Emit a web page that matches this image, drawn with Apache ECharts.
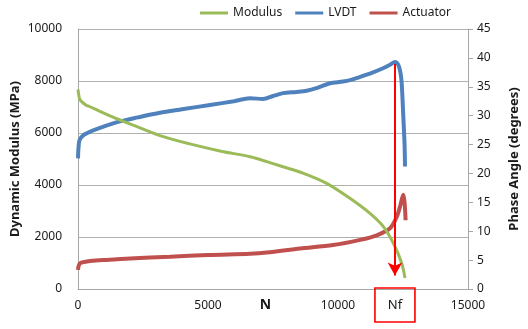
<!DOCTYPE html>
<html>
<head>
<meta charset="utf-8">
<script src="https://cdn.jsdelivr.net/npm/echarts@6/dist/echarts.min.js"></script>
<style>
  html, body { margin: 0; padding: 0; background: #fff; }
  #chart { width: 528px; height: 329px; }
</style>
</head>
<body>
<div id="chart"></div>
<script>
// 模量 (MPa) vs N
var modulusData = [
  [0, 7680], [40, 7400], [80, 7270], [300, 7080], [460, 7010], [800, 6850],
  [1230, 6660], [1615, 6500], [2000, 6350], [3150, 5900], [4300, 5580],
  [5500, 5300], [6615, 5090], [7000, 4980], [7885, 4700], [8650, 4460],
  [9565, 4065], [10460, 3490], [11230, 2910], [11745, 2400], [12130, 1760],
  [12450, 990], [12577, 420]
]
// 相位角 LVDT (degrees)
var lvdtData = [
  [0, 22.6], [20, 24.5], [60, 25.8], [200, 26.6], [500, 27.3], [846, 27.9],
  [1615, 29.0], [2300, 29.7], [3150, 30.5], [4000, 31.1], [5077, 31.85],
  [6000, 32.5], [6615, 33.0], [7115, 32.9], [7500, 33.4], [7885, 33.9],
  [8400, 34.1], [8795, 34.3], [9200, 34.8], [9690, 35.6], [10190, 35.9],
  [10500, 36.2], [10850, 36.7], [11300, 37.4], [11730, 38.2], [12000, 38.8],
  [12190, 39.3], [12320, 38.8], [12400, 37.5], [12450, 35.6], [12510, 30.0],
  [12560, 25.0], [12577, 21.2]
]
// 相位角 Actuator (degrees)
var actuatorData = [
  [0, 3.3], [20, 3.9], [80, 4.45], [400, 4.8], [974, 5.0], [2000, 5.3],
  [3540, 5.6], [5000, 5.9], [6615, 6.1], [7260, 6.3], [8540, 7.0],
  [9810, 7.6], [10850, 8.5], [11490, 9.3], [12000, 10.5], [12260, 12.5],
  [12400, 14.5], [12510, 16.3], [12560, 15.0], [12600, 11.9]
]
// Nf 及箭头
var nf = 12190
var arrowTop = 8650
var arrowBottom = 520

var font = 'Noto Sans'
var gridColor = '#b0b0b0'
var axisColor = '#a6a6a6'
var labelColor = '#1a1a1a'
var plain = function (v) { return String(v) }

var chart = echarts.init(document.getElementById('chart'))
var option = {
  animation: false,
  textStyle: { fontFamily: font },
  legend: {
    top: 2,
    right: 72,
    icon: 'rect',
    itemWidth: 28,
    itemHeight: 3,
    itemGap: 13,
    textStyle: { fontSize: 12, color: labelColor, fontFamily: font },
    data: ['Modulus', 'LVDT', 'Actuator']
  },
  grid: {
    left: 78,
    right: 60,
    top: 29,
    bottom: 40,
    containLabel: false,
    outerBoundsMode: 'none'
  },
  xAxis: {
    type: 'value',
    min: 0,
    max: 15000,
    interval: 5000,
    name: 'N',
    nameLocation: 'middle',
    nameGap: 9,
    nameMoveOverlap: false,
    nameTextStyle: { fontSize: 14, fontWeight: 'bold', color: labelColor, padding: [0, 15, 0, 0] },
    axisLine: { lineStyle: { color: axisColor } },
    axisTick: { show: false },
    axisLabel: { margin: 11, fontSize: 12, color: labelColor, formatter: plain },
    splitLine: { show: false }
  },
  yAxis: [{
    type: 'value',
    min: 0,
    max: 10000,
    interval: 2000,
    name: 'Dynamic Modulus (MPa)',
    nameLocation: 'middle',
    nameGap: 56,
    nameMoveOverlap: false,
    nameTextStyle: { fontSize: 13, fontWeight: 'bold', color: labelColor },
    axisLine: { show: true, lineStyle: { color: axisColor } },
    axisTick: { show: false },
    axisLabel: { margin: 16, fontSize: 12, color: labelColor, formatter: plain },
    splitLine: { lineStyle: { color: gridColor } }
  }, {
    type: 'value',
    min: 0,
    max: 45,
    interval: 5,
    name: 'Phase Angle (degrees)',
    nameLocation: 'middle',
    nameGap: 40,
    nameRotate: 90,
    nameMoveOverlap: false,
    nameTextStyle: { fontSize: 13, fontWeight: 'bold', color: labelColor },
    axisLine: { show: true, lineStyle: { color: axisColor } },
    axisTick: { show: true, length: 5, lineStyle: { color: axisColor } },
    axisLabel: { margin: 9, fontSize: 12, color: labelColor, formatter: plain },
    splitLine: { show: false }
  }],
  series: [{
    name: 'Modulus',
    type: 'line',
    yAxisIndex: 0,
    showSymbol: false,
    smooth: 0.3,
    lineStyle: { width: 3, color: '#9bbb59' },
    itemStyle: { color: '#9bbb59' },
    data: modulusData,
    z: 3,
    markLine: {
      silent: true,
      symbol: ['none', 'arrow'],
      symbolSize: [11, 13],
      label: { show: false },
      lineStyle: { color: '#ff0000', width: 2, type: 'solid' },
      data: [[{ coord: [nf, arrowTop] }, { coord: [nf, arrowBottom] }]]
    },
    markPoint: {
      silent: true,
      symbol: 'rect',
      symbolSize: [40, 34],
      symbolOffset: [0, 16],
      itemStyle: { color: 'rgba(255,255,255,0)', borderColor: '#ff0000', borderWidth: 1.5 },
      label: { show: true, position: 'inside', formatter: 'Nf', fontSize: 13, color: labelColor },
      data: [{ coord: [nf, 0] }]
    }
  }, {
    name: 'LVDT',
    type: 'line',
    yAxisIndex: 1,
    showSymbol: false,
    smooth: 0.3,
    lineStyle: { width: 4, color: '#4f81bd' },
    itemStyle: { color: '#4f81bd' },
    data: lvdtData,
    z: 2
  }, {
    name: 'Actuator',
    type: 'line',
    yAxisIndex: 1,
    showSymbol: false,
    smooth: 0.3,
    lineStyle: { width: 4, color: '#c0504d' },
    itemStyle: { color: '#c0504d' },
    data: actuatorData,
    z: 2
  }]
}
chart.setOption(option)
</script>
</body>
</html>
